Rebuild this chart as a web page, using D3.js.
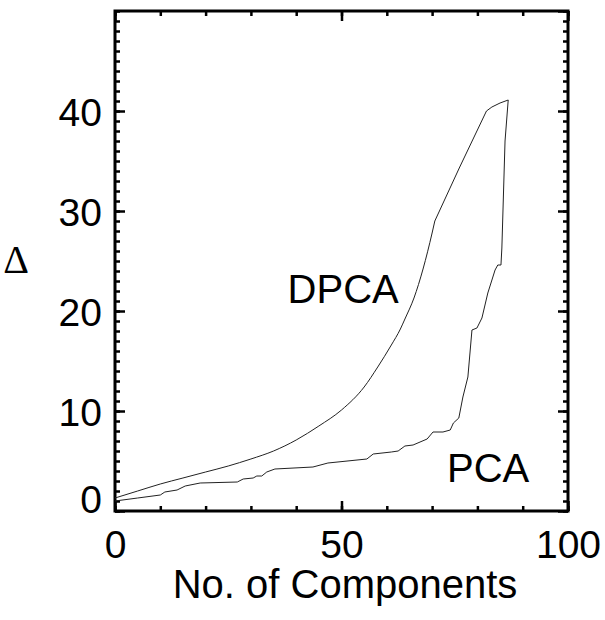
<!DOCTYPE html>
<html>
<head>
<meta charset="utf-8">
<script src="https://cdn.jsdelivr.net/npm/d3@7"></script>
<style>
	body { margin: 0; background: #fff; }
	text { font-family: "Liberation Sans", Arial, sans-serif; fill: #000; }
</style>
</head>
<body>
<main></main>
<script>
// values
const dpcaComponents = [0, 5, 10, 15, 20, 25, 30, 35, 40, 45, 50, 55, 58, 61, 63, 64, 66, 68, 70, 70.6, 76, 82, 83.2, 85, 86.8];
const dpcaDelta = [1.3, 2.0, 2.7, 3.3, 3.9, 4.5, 5.2, 6.0, 7.1, 8.5, 10.1, 12.4, 14.4, 16.6, 18.2, 19.2, 21.3, 24.2, 27.8, 29.0, 34.3, 40.0, 40.4, 40.8, 41.1];

const pcaComponents = [0, 5, 10, 11, 13.7, 15.5, 18.8, 27, 28.3, 30.5, 31.3, 32.4, 33.5, 35.3, 43.7, 47, 55.6, 57, 61, 62.5, 64, 65.8, 68.9, 70.2, 72.4, 74, 74.7, 75.9, 76.8, 77.9, 78.8, 79.9, 81, 82.3, 83.9, 84.5, 85.2, 85.4, 86.1, 86.8];
const pcaDelta = [1.0, 1.3, 1.6, 1.9, 2.1, 2.5, 2.8, 2.9, 3.2, 3.3, 3.5, 3.5, 3.9, 4.2, 4.4, 4.8, 5.2, 5.7, 5.9, 6.0, 6.5, 6.6, 7.2, 7.9, 7.9, 8.1, 8.8, 9.3, 11.4, 13.4, 18.1, 18.3, 19.3, 21.8, 24.1, 24.6, 24.6, 26.3, 37.0, 41.1];

const xMajorTicks = [0, 50, 100];
const yMajorTicks = [0, 10, 20, 30, 40];

function drawChart() {
	const dimensions = {
		width: 605,
		height: 620,
		margins: { top: 11, right: 37, bottom: 109, left: 115 },
	};
	dimensions.boundedWidth = dimensions.width - dimensions.margins.left - dimensions.margins.right;
	dimensions.boundedHeight = dimensions.height - dimensions.margins.top - dimensions.margins.bottom;

	const svg = d3.select("main")
		.append("svg")
		.attr("width", dimensions.width)
		.attr("height", dimensions.height);

	const graph = svg.append("g")
		.attr("transform", `translate(${dimensions.margins.left},${dimensions.margins.top})`);

	const xScale = d3.scaleLinear()
		.domain([0, 100])
		.range([0, dimensions.boundedWidth]);

	const yScale = d3.scaleLinear()
		.domain([0, 50])
		.range([dimensions.boundedHeight, 0]);

	const xMinor = d3.range(0, 101, 10);
	const yMinor = d3.range(0, 51, 1);

	// minor ticks on all four sides, pointing inward
	const addAxis = (gen, transform) => {
		const g = graph.append("g").attr("transform", transform).call(gen);
		g.select(".domain").remove();
		g.selectAll(".tick line").attr("stroke", "#000").attr("stroke-width", 2.5);
		return g;
	};
	addAxis(d3.axisBottom(xScale).tickValues(xMinor).tickSize(-5).tickFormat(""), `translate(0,${dimensions.boundedHeight})`);
	addAxis(d3.axisTop(xScale).tickValues(xMinor).tickSize(-5).tickFormat(""), "translate(0,0)");
	addAxis(d3.axisLeft(yScale).tickValues(yMinor).tickSize(-5).tickFormat(""), "translate(0,0)");
	addAxis(d3.axisRight(yScale).tickValues(yMinor).tickSize(-5).tickFormat(""), `translate(${dimensions.boundedWidth},0)`);
	addAxis(d3.axisTop(xScale).tickValues(xMajorTicks).tickSize(-10).tickFormat(""), "translate(0,0)");
	addAxis(d3.axisRight(yScale).tickValues(yMajorTicks.concat([50])).tickSize(-10).tickFormat(""), `translate(${dimensions.boundedWidth},0)`);

	// labelled major ticks
	const xAxis = addAxis(d3.axisBottom(xScale).tickValues(xMajorTicks).tickSize(-10).tickPadding(19).tickFormat(d3.format("d")),
		`translate(0,${dimensions.boundedHeight})`);
	xAxis.selectAll("text")
		.style("font-size", "39px")
		.attr("fill", "#000");

	const yAxis = addAxis(d3.axisLeft(yScale).tickValues(yMajorTicks).tickSize(-10).tickPadding(13).tickFormat(d3.format("d")),
		"translate(0,0)");
	yAxis.selectAll("text")
		.style("font-size", "39px")
		.attr("fill", "#000")
		.attr("dy", d => d === 0 ? "0.05em" : "0.36em");

	// frame
	graph.append("rect")
		.attr("width", dimensions.boundedWidth)
		.attr("height", dimensions.boundedHeight)
		.attr("fill", "none")
		.attr("stroke", "#000")
		.attr("stroke-width", 3);

	const line = d3.line()
		.x(d => xScale(d[0]))
		.y(d => yScale(d[1]));

	// DPCA: smooth rise up to the bend, then straight segments to the end
	const dpca = d3.zip(dpcaComponents, dpcaDelta);
	const bend = dpcaComponents.indexOf(70.6);

	graph.append("path")
		.datum(dpca.slice(0, bend + 1))
		.attr("d", line.curve(d3.curveMonotoneX))
		.attr("fill", "none")
		.attr("stroke", "#222")
		.attr("stroke-width", 1);

	graph.append("path")
		.datum(dpca.slice(bend))
		.attr("d", line.curve(d3.curveLinear))
		.attr("fill", "none")
		.attr("stroke", "#222")
		.attr("stroke-width", 1);

	graph.append("path")
		.datum(d3.zip(pcaComponents, pcaDelta))
		.attr("d", line.curve(d3.curveLinear))
		.attr("fill", "none")
		.attr("stroke", "#222")
		.attr("stroke-width", 1);

	graph.append("text")
		.attr("x", xScale(38.1))
		.attr("y", yScale(20.8))
		.style("font-size", "40px")
		.text("DPCA");

	graph.append("text")
		.attr("x", xScale(73.3))
		.attr("y", yScale(2.9))
		.style("font-size", "40px")
		.text("PCA");

	// axis titles
	svg.append("text")
		.attr("x", 345)
		.attr("y", 598)
		.style("font-size", "40px")
		.style("text-anchor", "middle")
		.text("No. of Components");

	svg.append("text")
		.attr("x", 16)
		.attr("y", 273)
		.style("font-family", "'Liberation Serif', serif")
		.style("font-size", "40px")
		.style("text-anchor", "middle")
		.text("Δ");
}
drawChart();
</script>
</body>
</html>
